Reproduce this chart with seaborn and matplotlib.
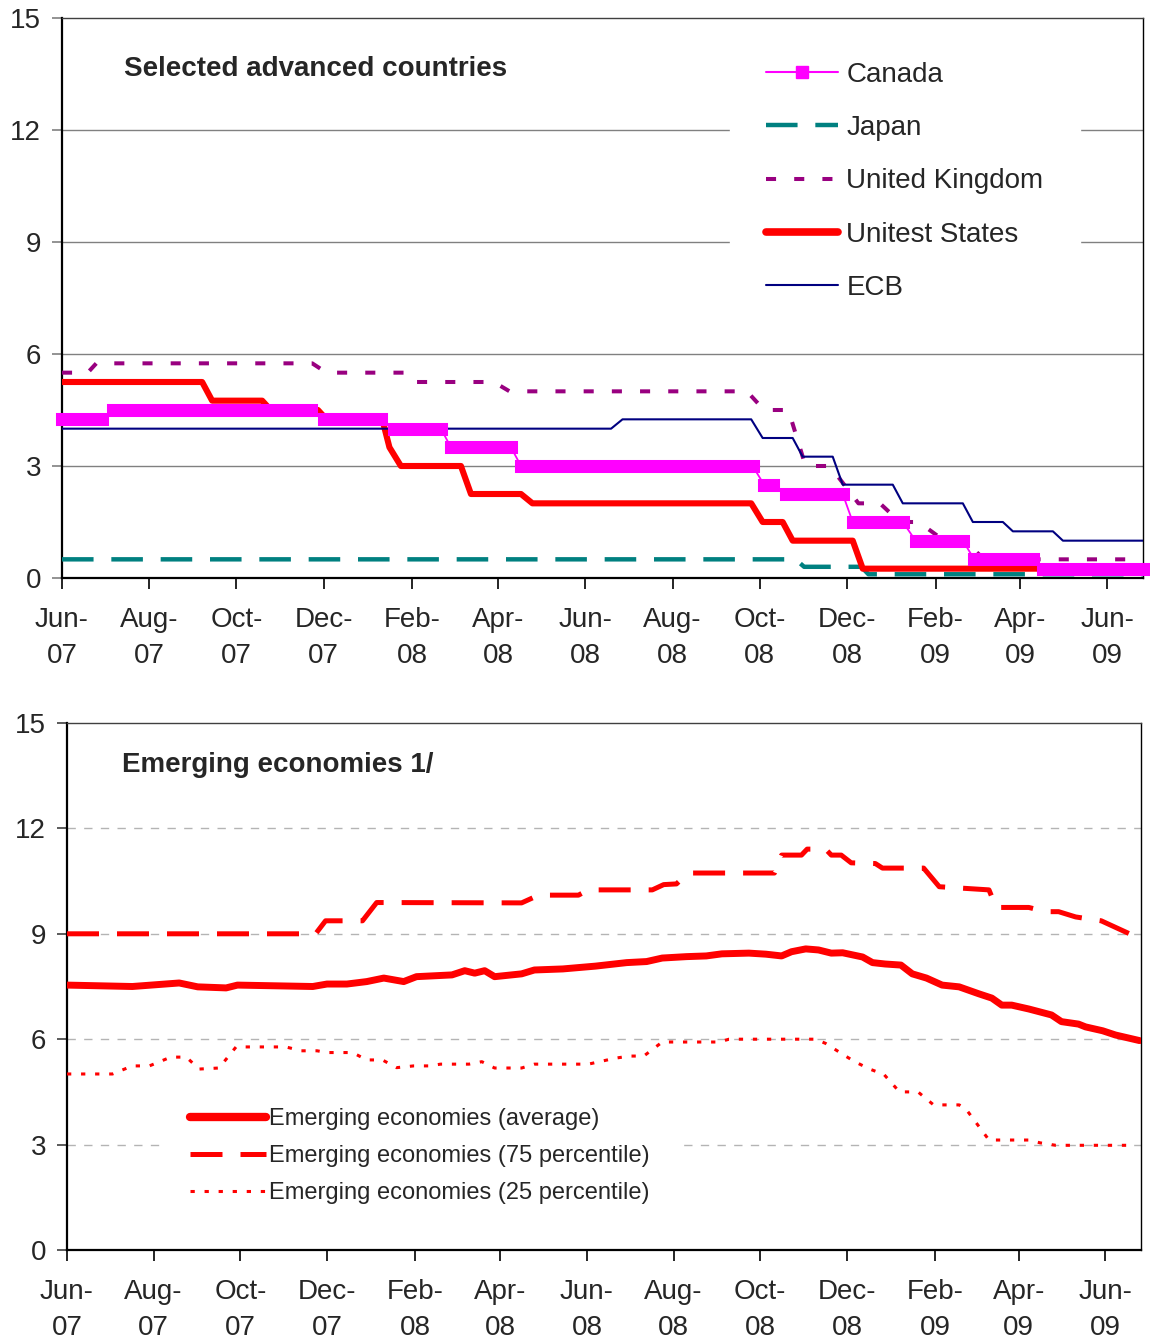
import numpy as np
import pandas as pd
import matplotlib
matplotlib.use("Agg")
import matplotlib.pyplot as plt
from matplotlib.lines import Line2D
import seaborn as sns

# ---------------------------------------------------------------------------
# Policy rates, selected advanced economies (percent), corner points
# ---------------------------------------------------------------------------
canada_dates = ["2007-06-01", "2007-06-29", "2007-07-07", "2007-11-22",
                "2007-12-01", "2008-01-10", "2008-01-19", "2008-02-21",
                "2008-02-28", "2008-04-10", "2008-04-17", "2008-09-26",
                "2008-10-04", "2008-10-10", "2008-10-19", "2008-11-28",
                "2008-12-05", "2009-01-09", "2009-01-18", "2009-02-20",
                "2009-02-28", "2009-04-10", "2009-04-17", "2009-06-26"]
canada_rate = [4.25, 4.25, 4.50, 4.50,
               4.25, 4.25, 4.00, 4.00,
               3.50, 3.50, 3.00, 3.00,
               2.50, 2.50, 2.25, 2.25,
               1.50, 1.50, 1.00, 1.00,
               0.50, 0.50, 0.25, 0.25]

japan_dates = ["2007-06-01", "2008-10-26", "2008-11-01", "2008-12-11",
               "2008-12-16", "2009-06-26"]
japan_rate = [0.50, 0.50, 0.30, 0.30, 0.10, 0.10]

uk_dates = ["2007-06-01", "2007-06-19", "2007-06-25", "2007-11-23",
            "2007-12-03", "2008-01-27", "2008-02-01", "2008-03-29",
            "2008-04-09", "2008-09-22", "2008-10-04", "2008-10-21",
            "2008-11-02", "2008-11-19", "2008-12-09", "2008-12-24",
            "2009-01-07", "2009-01-20", "2009-02-07", "2009-02-21",
            "2009-03-07", "2009-06-26"]
uk_rate = [5.50, 5.50, 5.75, 5.75,
           5.50, 5.50, 5.25, 5.25,
           5.00, 5.00, 4.50, 4.50,
           3.00, 3.00, 2.00, 2.00,
           1.50, 1.50, 1.00, 1.00,
           0.50, 0.50]

us_dates = ["2007-06-01", "2007-09-07", "2007-09-14", "2007-10-19",
            "2007-10-25", "2007-11-27", "2007-12-03", "2008-01-11",
            "2008-01-16", "2008-01-24", "2008-03-06", "2008-03-13",
            "2008-04-17", "2008-04-25", "2008-09-25", "2008-10-03",
            "2008-10-17", "2008-10-24", "2008-12-05", "2008-12-12",
            "2009-06-26"]
us_rate = [5.25, 5.25, 4.75, 4.75,
           4.50, 4.50, 4.25, 4.25,
           3.50, 3.00, 3.00, 2.25,
           2.25, 2.00, 2.00, 1.50,
           1.50, 1.00, 1.00, 0.25,
           0.25]

ecb_dates = ["2007-06-01", "2008-06-19", "2008-06-27", "2008-09-25",
             "2008-10-03", "2008-10-24", "2008-10-31", "2008-11-21",
             "2008-11-28", "2009-01-02", "2009-01-09", "2009-02-20",
             "2009-02-27", "2009-03-20", "2009-03-27", "2009-04-24",
             "2009-05-01", "2009-06-26"]
ecb_rate = [4.00, 4.00, 4.25, 4.25,
            3.75, 3.75, 3.25, 3.25,
            2.50, 2.50, 2.00, 2.00,
            1.50, 1.50, 1.25, 1.25,
            1.00, 1.00]

# ---------------------------------------------------------------------------
# Policy rates, emerging economies (percent)
# ---------------------------------------------------------------------------
em_avg_dates = ["2007-06-01", "2007-07-17", "2007-08-19", "2007-09-01",
                "2007-09-21", "2007-09-29", "2007-11-21", "2007-12-01",
                "2007-12-15", "2007-12-29", "2008-01-10", "2008-01-24",
                "2008-02-02", "2008-02-27", "2008-03-07", "2008-03-14",
                "2008-03-21", "2008-03-28", "2008-04-16", "2008-04-25",
                "2008-05-15", "2008-06-07", "2008-06-29", "2008-07-13",
                "2008-07-24", "2008-08-10", "2008-08-24", "2008-09-04",
                "2008-09-23", "2008-10-05", "2008-10-16", "2008-10-23",
                "2008-11-02", "2008-11-11", "2008-11-20", "2008-11-28",
                "2008-12-12", "2008-12-19", "2008-12-28", "2009-01-08",
                "2009-01-16", "2009-01-26", "2009-02-06", "2009-02-18",
                "2009-03-04", "2009-03-13", "2009-03-20", "2009-03-27",
                "2009-04-08", "2009-04-24", "2009-05-01", "2009-05-13",
                "2009-05-18", "2009-05-30", "2009-06-08", "2009-06-25"]
em_avg = [7.54, 7.50, 7.60, 7.49,
          7.46, 7.54, 7.50, 7.57,
          7.57, 7.64, 7.74, 7.64,
          7.78, 7.83, 7.95, 7.88,
          7.95, 7.78, 7.86, 7.97,
          8.00, 8.08, 8.18, 8.21,
          8.31, 8.35, 8.37, 8.43,
          8.45, 8.42, 8.37, 8.49,
          8.57, 8.54, 8.45, 8.46,
          8.34, 8.18, 8.14, 8.11,
          7.86, 7.74, 7.54, 7.49,
          7.29, 7.17, 6.97, 6.97,
          6.86, 6.69, 6.50, 6.43,
          6.35, 6.24, 6.12, 5.96]

em_p75_dates = ["2007-06-01", "2007-11-23", "2007-11-30", "2007-12-26",
                "2008-01-05", "2008-04-16", "2008-04-28", "2008-05-26",
                "2008-06-02", "2008-07-17", "2008-07-25", "2008-08-03",
                "2008-08-11", "2008-10-11", "2008-10-16", "2008-10-30",
                "2008-11-03", "2008-11-16", "2008-11-20", "2008-11-27",
                "2008-12-04", "2008-12-21", "2008-12-26", "2009-01-24",
                "2009-02-04", "2009-03-11", "2009-03-16", "2009-04-08",
                "2009-04-20", "2009-04-29", "2009-05-11", "2009-05-24",
                "2009-05-29", "2009-06-19"]
em_p75 = [9.00, 9.00, 9.37, 9.37,
          9.89, 9.88, 10.10, 10.10,
          10.25, 10.25, 10.40, 10.42,
          10.73, 10.73, 11.24, 11.24,
          11.41, 11.41, 11.24, 11.24,
          11.02, 11.00, 10.87, 10.87,
          10.34, 10.25, 9.75, 9.75,
          9.63, 9.63, 9.48, 9.40,
          9.37, 8.98]

em_p25_dates = ["2007-06-01", "2007-07-03", "2007-07-17", "2007-07-29",
                "2007-08-13", "2007-08-24", "2007-09-02", "2007-09-16",
                "2007-09-28", "2007-11-02", "2007-11-13", "2007-11-24",
                "2007-12-01", "2007-12-19", "2007-12-29", "2008-01-09",
                "2008-01-19", "2008-01-31", "2008-02-11", "2008-02-19",
                "2008-03-10", "2008-03-19", "2008-03-28", "2008-04-16",
                "2008-04-25", "2008-06-02", "2008-06-21", "2008-07-01",
                "2008-07-11", "2008-07-24", "2008-09-02", "2008-09-09",
                "2008-11-09", "2008-11-16", "2008-11-30", "2008-12-07",
                "2008-12-17", "2008-12-27", "2009-01-07", "2009-01-20",
                "2009-01-31", "2009-02-18", "2009-02-23", "2009-03-11",
                "2009-04-08", "2009-04-16", "2009-04-27", "2009-06-22"]
em_p25 = [5.01, 5.01, 5.24, 5.24,
          5.49, 5.49, 5.15, 5.18,
          5.78, 5.78, 5.67, 5.67,
          5.62, 5.62, 5.41, 5.41,
          5.19, 5.24, 5.24, 5.29,
          5.29, 5.36, 5.18, 5.18,
          5.29, 5.29, 5.46, 5.52,
          5.52, 5.92, 5.92, 6.00,
          6.00, 5.88, 5.52, 5.35,
          5.15, 5.00, 4.50, 4.50,
          4.13, 4.13, 4.00, 3.13,
          3.13, 3.05, 2.98, 2.98]

tick_dates = pd.date_range("2007-06-01", "2009-06-01", freq="2MS")
tick_labels = ["Jun-\n07", "Aug-\n07", "Oct-\n07", "Dec-\n07", "Feb-\n08",
               "Apr-\n08", "Jun-\n08", "Aug-\n08", "Oct-\n08", "Dec-\n08",
               "Feb-\n09", "Apr-\n09", "Jun-\n09"]
y_ticks = [0, 3, 6, 9, 12, 15]

# ---------------------------------------------------------------------------
sns.set_theme(style="white")
plt.rcParams["font.family"] = ["Liberation Sans", "DejaVu Sans"]

RED = "#FF0000"
MAGENTA = "#FF00FF"
TEAL = "#008080"
PURPLE = "#990080"
NAVY = "#000080"
GRID = "#808080"

fig = plt.figure(figsize=(11.5, 13.41), dpi=100)
ax1 = fig.add_axes([62 / 1150, 1 - 578 / 1341, (1143 - 62) / 1150, (578 - 18) / 1341])
ax2 = fig.add_axes([67 / 1150, 1 - 1250 / 1341, (1141 - 67) / 1150, (1250 - 723) / 1341])

x_start = pd.Timestamp("2007-06-01")
x_end = pd.Timestamp("2009-06-26")


def style_axes(ax, grid_style):
    ax.set_xlim(x_start, x_end)
    ax.set_ylim(0, 15)
    ax.set_yticks(y_ticks)
    ax.set_yticklabels([str(v) for v in y_ticks], fontsize=20)
    ax.set_xticks(tick_dates)
    ax.set_xticklabels(tick_labels, fontsize=20, linespacing=1.5)
    ax.tick_params(axis="x", direction="out", length=8, width=1.2,
                   color="black", pad=13, bottom=True)
    ax.tick_params(axis="y", direction="out", length=7, width=1.2,
                   color=GRID, pad=8, left=True)
    for g in y_ticks[1:-1]:
        ax.axhline(g, color=grid_style["color"], lw=grid_style["lw"],
                   ls=grid_style["ls"], zorder=0.5)
    ax.spines["left"].set_color("black")
    ax.spines["left"].set_linewidth(1.6)
    ax.spines["bottom"].set_color("black")
    ax.spines["bottom"].set_linewidth(1.6)
    ax.spines["right"].set_color("black")
    ax.spines["right"].set_linewidth(1.0)
    ax.spines["top"].set_color("#404040")
    ax.spines["top"].set_linewidth(1.0)
    ax.set_xlabel("")
    ax.set_ylabel("")


# --- top panel --------------------------------------------------------------
sns.lineplot(x=pd.to_datetime(japan_dates), y=japan_rate, ax=ax1, color=TEAL,
             lw=3.2, linestyle=(0, (7.1, 4.0)), errorbar=None, zorder=3)
sns.lineplot(x=pd.to_datetime(uk_dates), y=uk_rate, ax=ax1, color=PURPLE,
             lw=2.9, linestyle=(0, (2.5, 4.5)), errorbar=None, zorder=3)
sns.lineplot(x=pd.to_datetime(us_dates), y=us_rate, ax=ax1, color=RED,
             lw=4.4, errorbar=None, zorder=4)
sns.lineplot(x=pd.to_datetime(ecb_dates), y=ecb_rate, ax=ax1, color=NAVY,
             lw=1.5, errorbar=None, zorder=5)
sns.lineplot(x=pd.to_datetime(canada_dates), y=canada_rate, ax=ax1,
             color=MAGENTA, lw=1.3, errorbar=None, zorder=6)

# Canada: the dense square markers merge into bars along each flat stretch
can_x = pd.to_datetime(canada_dates)
bar_x, bar_y = [], []
for i in range(len(canada_rate) - 1):
    if canada_rate[i] == canada_rate[i + 1]:
        bar_x += [can_x[i], can_x[i + 1], can_x[i + 1]]
        bar_y += [canada_rate[i], canada_rate[i + 1], np.nan]
ax1.plot(pd.DatetimeIndex(bar_x), bar_y, color=MAGENTA, lw=9.4,
         solid_capstyle="projecting", zorder=6, clip_on=False)

style_axes(ax1, {"color": GRID, "lw": 1.0, "ls": "-"})
ax1.text(0.0574, 0.909, "Selected advanced countries", transform=ax1.transAxes,
         fontsize=20, fontweight="bold", va="center", ha="left")

top_handles = [
    Line2D([0], [0], color=MAGENTA, lw=1.5, marker="s", markersize=8.5),
    Line2D([0], [0], color=TEAL, lw=3.2, linestyle=(0, (7.1, 4.0))),
    Line2D([0], [0], color=PURPLE, lw=2.9, linestyle=(0, (2.5, 4.5))),
    Line2D([0], [0], color=RED, lw=5.5, solid_capstyle="round"),
    Line2D([0], [0], color=NAVY, lw=1.5),
]
top_names = ["Canada", "Japan", "United Kingdom", "Unitest States", "ECB"]
leg1 = ax1.legend(top_handles, top_names, loc="upper left",
                  bbox_to_anchor=(0.618, 0.986), borderaxespad=0,
                  fontsize=20, frameon=True, fancybox=False, framealpha=1,
                  facecolor="white", edgecolor="white", borderpad=1.3,
                  handlelength=2.6, handletextpad=0.29, labelspacing=0.98)
leg1.set_zorder(10)

# --- bottom panel -----------------------------------------------------------
sns.lineplot(x=pd.to_datetime(em_avg_dates), y=em_avg, ax=ax2, color=RED,
             lw=5.0, errorbar=None, zorder=4)
sns.lineplot(x=pd.to_datetime(em_p75_dates), y=em_p75, ax=ax2, color=RED,
             lw=3.6, linestyle=(0, (6.4, 3.6)), errorbar=None, zorder=3)
sns.lineplot(x=pd.to_datetime(em_p25_dates), y=em_p25, ax=ax2, color=RED,
             lw=2.2, linestyle=(0, (1.4, 3.2)), errorbar=None, zorder=3)

style_axes(ax2, {"color": "#B4B4B4", "lw": 1.0, "ls": (0, (6, 6))})
ax2.tick_params(axis="y", color="#404040")
ax2.text(0.0512, 0.920, "Emerging economies 1/", transform=ax2.transAxes,
         fontsize=20, fontweight="bold", va="center", ha="left")

bottom_handles = [
    Line2D([0], [0], color=RED, lw=6.0, solid_capstyle="round"),
    Line2D([0], [0], color=RED, lw=3.6, linestyle=(0, (6.4, 3.6))),
    Line2D([0], [0], color=RED, lw=2.2, linestyle=(0, (1.4, 3.2))),
]
bottom_names = ["Emerging economies (average)",
                "Emerging economies (75 percentile)",
                "Emerging economies (25 percentile)"]
leg2 = ax2.legend(bottom_handles, bottom_names, loc="upper left",
                  bbox_to_anchor=(0.0885, 0.3226), borderaxespad=0,
                  fontsize=17, frameon=True, fancybox=False, framealpha=1,
                  facecolor="white", edgecolor="white", borderpad=1.2,
                  handlelength=3.2, handletextpad=0.13, labelspacing=0.63)
leg2.set_zorder(10)

fig.savefig("out.png", dpi=100)
